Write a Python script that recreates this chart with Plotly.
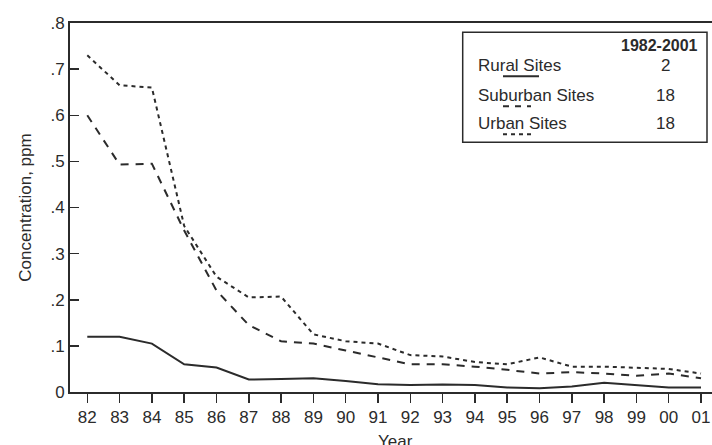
import plotly.graph_objects as go

years = ["82", "83", "84", "85", "86", "87", "88", "89", "90", "91",
         "92", "93", "94", "95", "96", "97", "98", "99", "00", "01"]
rural = [0.120, 0.120, 0.105, 0.060, 0.053, 0.027, 0.028, 0.030, 0.024, 0.017,
         0.015, 0.016, 0.015, 0.010, 0.008, 0.012, 0.020, 0.015, 0.010, 0.010]
suburban = [0.600, 0.493, 0.495, 0.350, 0.220, 0.145, 0.110, 0.105, 0.090, 0.075,
            0.060, 0.060, 0.055, 0.048, 0.040, 0.043, 0.040, 0.035, 0.040, 0.030]
urban = [0.730, 0.665, 0.660, 0.360, 0.250, 0.205, 0.207, 0.125, 0.110, 0.105,
         0.080, 0.077, 0.065, 0.060, 0.075, 0.055, 0.055, 0.052, 0.050, 0.040]
yticks = [0, 0.1, 0.2, 0.3, 0.4, 0.5, 0.6, 0.7, 0.8]
ytick_text = ["0", ".1", ".2", ".3", ".4", ".5", ".6", ".7", ".8"]
legend_rows = [("Rural Sites", "2"), ("Suburban Sites", "18"), ("Urban Sites", "18")]
legend_header = "1982-2001"
x_title = "Year"
y_title = "Concentration, ppm"

xs = list(range(len(years)))
INK = "#2b2b2b"
FONT = "Liberation Sans, Arial, sans-serif"

fig = go.Figure()
fig.add_trace(go.Scatter(x=xs, y=rural, mode="lines",
                         line=dict(color=INK, width=2), showlegend=False))
fig.add_trace(go.Scatter(x=xs, y=suburban, mode="lines",
                         line=dict(color=INK, width=2, dash="8px,7px"), showlegend=False))
fig.add_trace(go.Scatter(x=xs, y=urban, mode="lines",
                         line=dict(color=INK, width=2, dash="4px,4px"), showlegend=False))

L, R, T, B = 70, 712, 22.7, 392


def px(x):
    return (x - L) / (R - L)


def py(y):
    return (B - y) / (B - T)


shapes = [dict(type="rect", xref="paper", yref="paper",
               x0=px(462.7), x1=px(707), y0=py(142), y1=py(32),
               line=dict(color=INK, width=1.5), fillcolor="white")]
annotations = [dict(xref="paper", yref="paper", x=px(700), y=py(45),
                    text="<b>" + legend_header + "</b>", showarrow=False,
                    xanchor="right", yanchor="middle",
                    font=dict(family=FONT, size=16, color=INK)),
               dict(xref="paper", yref="paper", x=px(396), y=py(442),
                    text=x_title, showarrow=False, xanchor="center", yanchor="middle",
                    font=dict(family=FONT, size=17, color=INK))]
row_y = [65, 95, 123]
dashes = ["solid", "6px,6px", "4px,4px"]
for (label, n), yy, d in zip(legend_rows, row_y, dashes):
    annotations.append(dict(xref="paper", yref="paper", x=px(476), y=py(yy),
                            text=label, showarrow=False, xanchor="left", yanchor="middle",
                            font=dict(family=FONT, size=17, color=INK)))
    annotations.append(dict(xref="paper", yref="paper", x=px(665), y=py(yy),
                            text=n, showarrow=False, xanchor="center", yanchor="middle",
                            font=dict(family=FONT, size=17, color=INK)))
    shapes.append(dict(type="line", xref="paper", yref="paper",
                       x0=px(503), x1=px(539 if d == "solid" else 531),
                       y0=py(yy + 11), y1=py(yy + 11),
                       line=dict(color=INK, width=2, dash=d)))

fig.update_layout(
    width=712, height=445,
    margin=dict(l=L, r=712 - R, t=T, b=445 - B),
    paper_bgcolor="white", plot_bgcolor="white",
    font=dict(family=FONT, size=17, color=INK),
    shapes=shapes, annotations=annotations,
    xaxis=dict(range=[-0.535, 19.34], tickmode="array", tickvals=xs, ticktext=years,
               showgrid=False, zeroline=False, showline=True, linecolor=INK, linewidth=2,
               mirror=True, ticks="outside", ticklen=9, tickwidth=1.5, tickcolor=INK,
               tickfont=dict(size=17), fixedrange=True, automargin=False),
    yaxis=dict(range=[0, 0.8], tickmode="array", tickvals=yticks, ticktext=ytick_text,
               showgrid=False, zeroline=False, showline=True, linecolor=INK, linewidth=2,
               ticks="inside", ticklen=9, tickwidth=1.5, tickcolor=INK,
               tickfont=dict(size=17), fixedrange=True, automargin=False,
               title=dict(text=y_title, font=dict(size=17), standoff=14)),
)

fig.write_html("out.html", config={"displayModeBar": False, "staticPlot": True},
               post_script="document.body.style.margin='0px';document.body.style.overflow='hidden';")
